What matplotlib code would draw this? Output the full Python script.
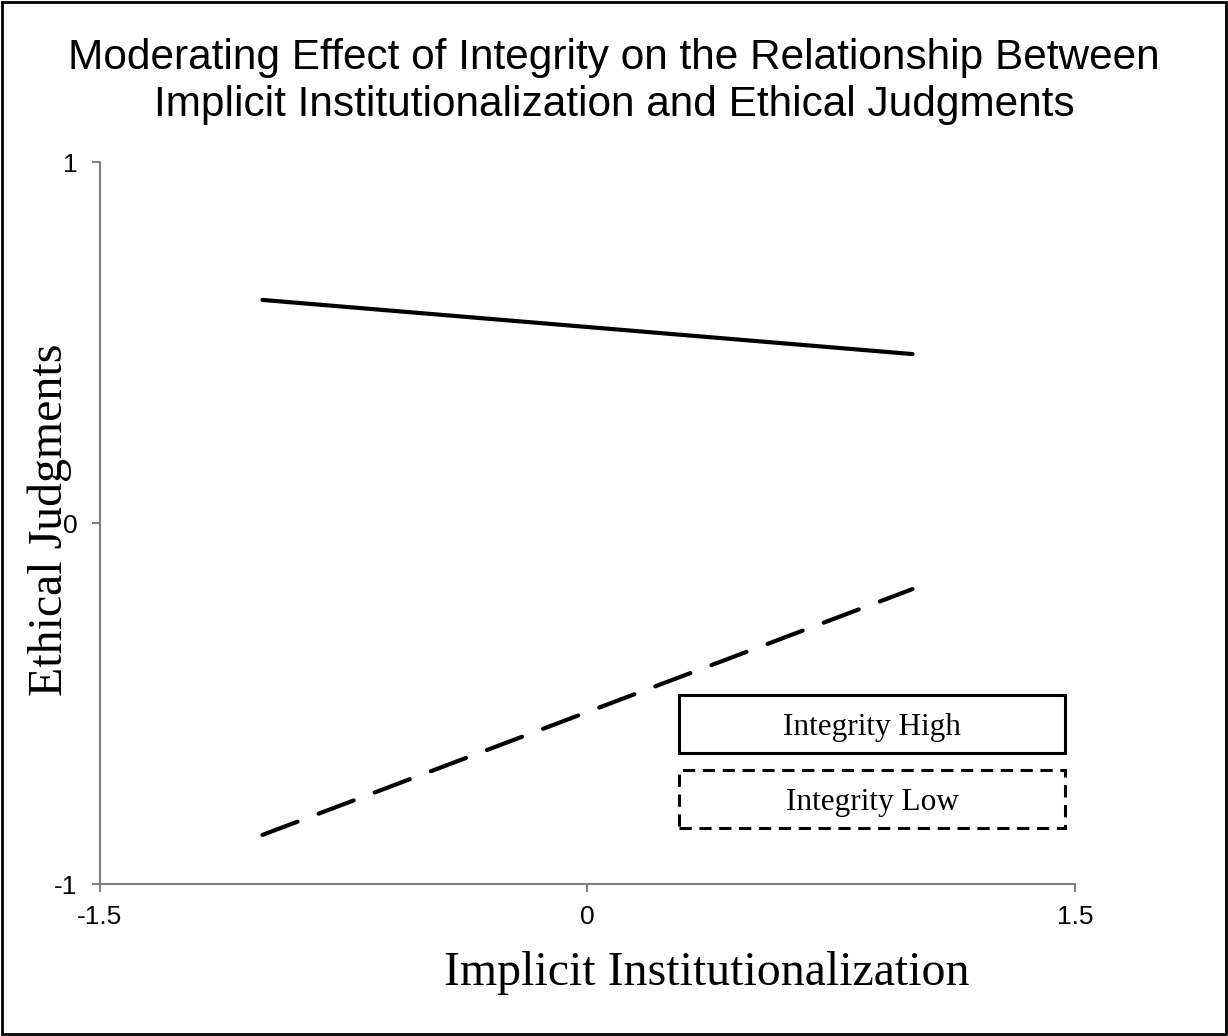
import matplotlib.pyplot as plt
from matplotlib.patches import Rectangle

# data
x_vals = [-1, 1]
high_vals = [0.618, 0.468]
low_vals = [-0.864, -0.183]
labels = ["Integrity High", "Integrity Low"]
x_ticks = [-1.5, 0, 1.5]
y_ticks = [-1, 0, 1]

fig = plt.figure(figsize=(12.28, 10.36), dpi=100)
ax = fig.add_axes([0.0814, 0.1467, 0.7940, 0.6969])

ax.plot(x_vals, high_vals, color="black", lw=3, solid_capstyle="round")
ax.plot(x_vals, low_vals, color="black", lw=3, dashes=(9, 5.4), dash_capstyle="round")

ax.set_xlim(-1.5, 1.5)
ax.set_ylim(-1, 1)
ax.set_xticks(x_ticks)
ax.set_xticklabels(["-1.5", "0", "1.5"])
ax.set_yticks(y_ticks)
ax.set_yticklabels(["-1", "0", "1"])
for s in ["top", "right"]:
    ax.spines[s].set_visible(False)
for s in ["left", "bottom"]:
    ax.spines[s].set_color("#808080")
    ax.spines[s].set_linewidth(1.5)
ax.tick_params(colors="#808080", length=6, width=1.5, labelcolor="black", labelsize=19)
ax.tick_params(axis="x", pad=9)
ax.tick_params(axis="y", pad=10)
for t in ax.get_xticklabels() + ax.get_yticklabels():
    t.set_family("Liberation Sans")

ax.set_xlabel("Implicit Institutionalization", fontsize=34.5, family="Liberation Serif")
ax.xaxis.set_label_coords(0.622, -0.093)
ax.set_ylabel("Ethical Judgments", fontsize=34.5, family="Liberation Serif")
ax.yaxis.set_label_coords(-0.029, 0.505)

fig.suptitle("Moderating Effect of Integrity on the Relationship Between\n"
             "Implicit Institutionalization and Ethical Judgments",
             fontsize=30.5, family="Liberation Sans", y=0.963, linespacing=1.22)

# legend boxes
boxes = [(0.262, "-"), (0.158, (0, (4, 2.5)))]
for (top, ls), lab in zip(boxes, labels):
    ax.add_patch(Rectangle((0.594, top - 0.081), 0.396, 0.081, transform=ax.transAxes,
                           fill=False, ec="black", lw=2.2, linestyle=ls, clip_on=False))
    ax.text(0.792, top - 0.045, lab, transform=ax.transAxes, ha="center", va="center",
            fontsize=22.5, family="Liberation Serif")

# figure border
fig.add_artist(Rectangle((0.002, 0.002), 0.996, 0.996, transform=fig.transFigure,
                         fill=False, ec="black", lw=2))

fig.savefig("out.png", dpi=100)
